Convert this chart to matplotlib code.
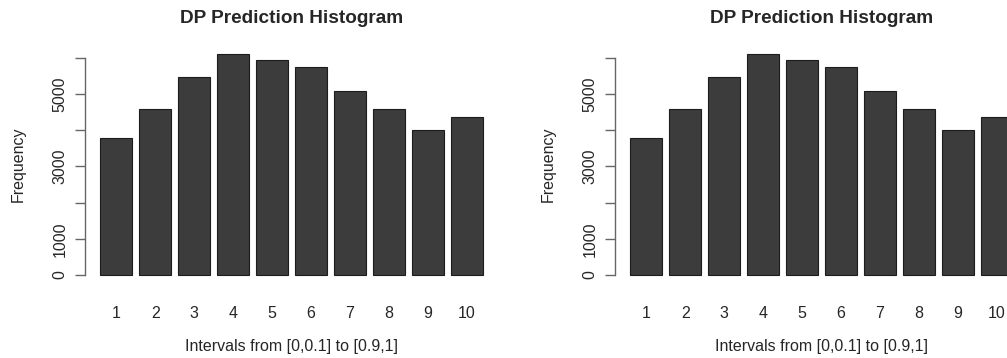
import matplotlib
matplotlib.use('Agg')
import matplotlib.pyplot as plt
import numpy as np

plt.rcParams['font.family'] = ['Liberation Sans', 'DejaVu Sans']

# data
intervals = ['1', '2', '3', '4', '5', '6', '7', '8', '9', '10']
frequency = [3790, 4590, 5480, 6100, 5940, 5755, 5085, 4580, 4000, 4360]
y_ticks = [0, 1000, 2000, 3000, 4000, 5000, 6000]
y_labels = ['0', '1000', '', '3000', '', '5000', '']

W, H = 1007, 358
fig = plt.figure(figsize=(W / 100, H / 100), dpi=100)

# R barplot style positions: width 1, space 0.2
centers = 0.7 + 1.2 * np.arange(len(frequency))
xl, xr = 0.2, centers[-1] + 0.5
xpad = 0.04 * (xr - xl)
ymax = max(frequency)

text_col = '#262626'
axis_col = '#666666'

# two identical panels, the right one runs past the figure edge
for off in [0, 530]:
    left, right = 84.7 + off, 498.3 + off
    top, bottom = 45.5, 283.8
    ax = fig.add_axes([left / W, (H - bottom) / H, (right - left) / W, (bottom - top) / H])
    ax.bar(centers, frequency, width=1.0, color='#3c3c3c', edgecolor='#1c1c1c', linewidth=0.8)
    ax.set_xlim(xl - xpad, xr + xpad)
    ax.set_ylim(-0.04 * ymax, 1.04 * ymax)

    for s in ['top', 'right', 'bottom']:
        ax.spines[s].set_visible(False)
    ax.spines['left'].set_bounds(0, 6000)
    ax.spines['left'].set_color(axis_col)
    ax.spines['left'].set_linewidth(1.0)

    ax.set_yticks(y_ticks)
    ax.set_yticklabels(y_labels, rotation=90, va='center', fontsize=11.5, color=text_col)
    ax.tick_params(axis='y', length=7.2, width=1.0, color=axis_col, pad=5)

    ax.set_xticks(centers)
    ax.set_xticklabels(intervals, fontsize=11.5, color=text_col)
    ax.tick_params(axis='x', length=0, pad=16)

    ax.set_ylabel('Frequency', fontsize=11.5, color=text_col, va='center')
    ax.yaxis.set_label_coords((18 + off - left) / (right - left), 0.5)
    ax.set_xlabel('Intervals from [0,0.1] to [0.9,1]', fontsize=11.5, color=text_col, va='center')
    ax.xaxis.set_label_coords(0.5, (bottom - 346) / (bottom - top))

    ax.set_title('DP Prediction Histogram', fontsize=13.7, fontweight='bold', color=text_col, pad=16)

fig.savefig('out.png', dpi=100)
